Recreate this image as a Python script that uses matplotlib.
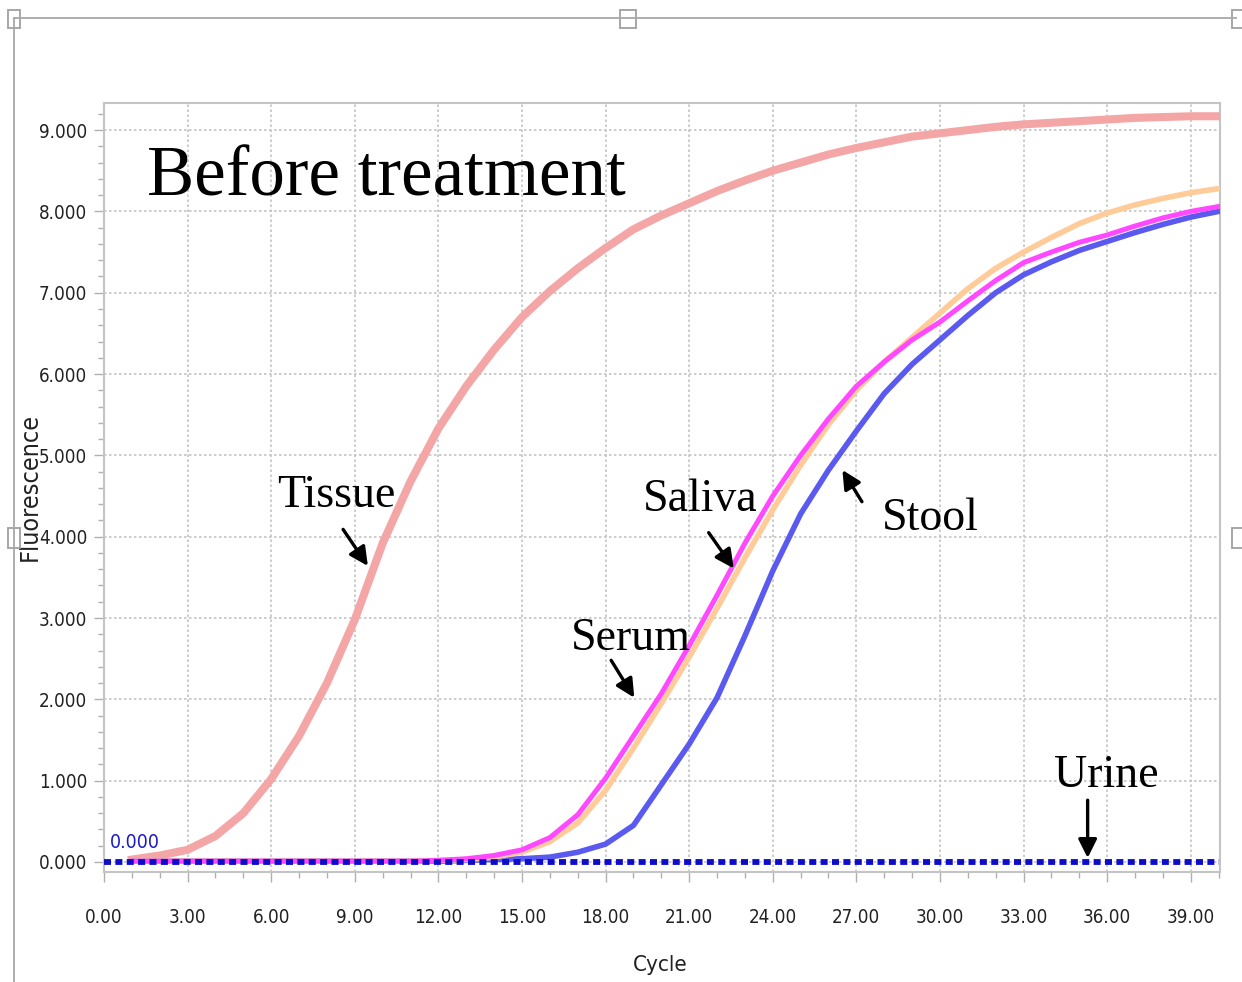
import matplotlib
matplotlib.use("Agg")
import matplotlib.pyplot as plt
from matplotlib.ticker import MultipleLocator, FormatStrFormatter
from matplotlib.patches import Rectangle
from matplotlib.lines import Line2D
from matplotlib import font_manager

# ---- data -------------------------------------------------------------
cycles = list(range(1, 41))
tissue = [0.03, 0.08, 0.15, 0.32, 0.60, 1.02, 1.55, 2.20, 2.98, 3.92,
          4.68, 5.33, 5.85, 6.30, 6.70, 7.02, 7.30, 7.55, 7.78, 7.95,
          8.10, 8.25, 8.38, 8.50, 8.60, 8.70, 8.78, 8.85, 8.92, 8.96,
          9.00, 9.04, 9.07, 9.09, 9.11, 9.13, 9.15, 9.16, 9.17, 9.17]
serum = [0.01, 0.01, 0.01, 0.01, 0.01, 0.01, 0.01, 0.01, 0.01, 0.01,
         0.01, 0.02, 0.04, 0.08, 0.15, 0.30, 0.58, 1.03, 1.55, 2.07,
         2.66, 3.28, 3.92, 4.50, 5.00, 5.45, 5.85, 6.15, 6.42, 6.64,
         6.90, 7.15, 7.37, 7.50, 7.62, 7.71, 7.82, 7.92, 8.00, 8.06]
saliva = [0.01, 0.01, 0.01, 0.01, 0.01, 0.01, 0.01, 0.01, 0.01, 0.01,
          0.01, 0.02, 0.03, 0.06, 0.12, 0.25, 0.48, 0.88, 1.40, 1.95,
          2.52, 3.12, 3.74, 4.33, 4.88, 5.38, 5.80, 6.15, 6.45, 6.75,
          7.05, 7.30, 7.50, 7.68, 7.85, 7.98, 8.08, 8.16, 8.23, 8.28]
stool = [0.01, 0.01, 0.01, 0.01, 0.01, 0.01, 0.01, 0.01, 0.01, 0.01,
         0.01, 0.01, 0.02, 0.03, 0.04, 0.06, 0.12, 0.22, 0.45, 0.95,
         1.45, 2.02, 2.78, 3.58, 4.28, 4.82, 5.30, 5.76, 6.12, 6.42,
         6.72, 7.00, 7.22, 7.38, 7.52, 7.63, 7.74, 7.84, 7.93, 8.00]
urine_cycles = [0, 40]
urine = [0.0, 0.0]

title_text = "Before treatment"
labels = {"Tissue": (6.2, 4.5), "Saliva": (19.35, 4.45), "Stool": (27.9, 4.22),
          "Serum": (16.75, 2.75), "Urine": (34.1, 1.06)}

# ---- fonts ------------------------------------------------------------
narrow_fp = font_manager.FontProperties(family="DejaVu Sans", stretch="condensed")

# ---- figure -----------------------------------------------------------
W, H = 1242, 982
fig = plt.figure(figsize=(W / 100, H / 100), dpi=100)


def fx(p):
    return p / W


def fy(p):
    return 1 - p / H


fig.add_artist(Line2D([fx(14), fx(1236)], [fy(18), fy(18)], color="#a8a8a8", lw=1.3))
fig.add_artist(Line2D([fx(14), fx(14)], [fy(18), fy(982)], color="#a8a8a8", lw=1.3))
for (px, py, w, h) in [(8, 10, 12, 18), (620, 10, 16, 18), (1232, 10, 12, 18),
                       (8, 528, 12, 20), (1232, 528, 12, 20)]:
    fig.add_artist(Rectangle((fx(px), fy(py + h)), w / W, h / H, transform=fig.transFigure,
                             facecolor="white", edgecolor="#a0a0a0", lw=1.3))

ax = fig.add_axes([fx(104), fy(872), (1220 - 104) / W, (872 - 103) / H])
ax.set_xlim(0, 40.05)
ax.set_ylim(-0.123, 9.333)

ax.xaxis.set_major_locator(MultipleLocator(3))
ax.xaxis.set_minor_locator(MultipleLocator(1))
ax.yaxis.set_major_locator(MultipleLocator(1))
ax.yaxis.set_minor_locator(MultipleLocator(0.2))
ax.xaxis.set_major_formatter(FormatStrFormatter("%.2f"))
ax.yaxis.set_major_formatter(FormatStrFormatter("%.3f"))

ax.tick_params(axis="both", which="major", length=7, width=1, color="#b0b0b0",
               labelcolor="#222222")
ax.tick_params(axis="both", which="minor", length=4, width=1, color="#b0b0b0")
ax.tick_params(axis="x", pad=19)
ax.tick_params(axis="y", pad=5)
for lab in ax.get_xticklabels() + ax.get_yticklabels():
    lab.set_fontproperties(narrow_fp)
    lab.set_fontsize(13.5)

for s in ax.spines.values():
    s.set_color("#c4c4c4")
    s.set_linewidth(1.5)

ax.grid(True, which="major", color="#c4c4c4", lw=1.2, linestyle=(0, (1.5, 1.5)))
ax.set_axisbelow(True)

ax.plot(cycles, tissue, color="#f4a6a6", lw=5.8, zorder=3)
ax.plot(cycles, stool, color="#5a5af0", lw=4, zorder=3)
ax.plot(cycles, saliva, color="#ffcb98", lw=4, zorder=3)
ax.plot(cycles, serum, color="#ff48ff", lw=3.6, zorder=3)
ax.plot(urine_cycles, urine, color="#0d0dc8", lw=4.2, linestyle=(0, (1.2, 0.75)),
        dash_capstyle="butt", zorder=4)

t0 = ax.text(0.2, 0.12, "0.000", color="#1a1acc", fontproperties=narrow_fp,
             ha="left", va="bottom", zorder=5)
t0.set_fontsize(14)

ax.set_xlabel("Cycle", fontproperties=narrow_fp, color="#222222")
ax.xaxis.label.set_fontsize(16)
ax.xaxis.set_label_coords((660 - 104) / 1116, -(965 - 872) / 769)
ax.xaxis.label.set_va("center")
ax.set_ylabel("Fluorescence", fontproperties=narrow_fp, color="#222222")
ax.yaxis.label.set_fontsize(18)
ax.yaxis.set_label_coords((30 - 104) / 1116, (872 - 487) / 769)
ax.yaxis.label.set_va("center")

serif = ["Liberation Serif", "DejaVu Serif"]
ax.text(1.55, 8.41, title_text, fontsize=51, family=serif, ha="left", va="center",
        color="black", zorder=6)

for name, (x, y) in labels.items():
    ax.text(x, y, name, fontsize=33, family=serif, ha="left", va="center",
            color="black", zorder=6)

arrows = [((8.58, 4.09), (9.47, 3.64)),   # Tissue
          ((21.7, 4.05), (22.6, 3.61)),   # Saliva
          ((27.2, 4.43), (26.5, 4.82)),   # Stool
          ((18.2, 2.48), (19.03, 2.02)),  # Serum
          ((35.3, 0.76), (35.3, 0.05))]   # Urine
for (start, end) in arrows:
    ax.annotate("", xy=end, xytext=start,
                arrowprops=dict(arrowstyle="-|>", lw=2.4, color="black",
                                mutation_scale=28, shrinkA=0, shrinkB=0),
                zorder=6)

fig.savefig("out.png", dpi=100)
